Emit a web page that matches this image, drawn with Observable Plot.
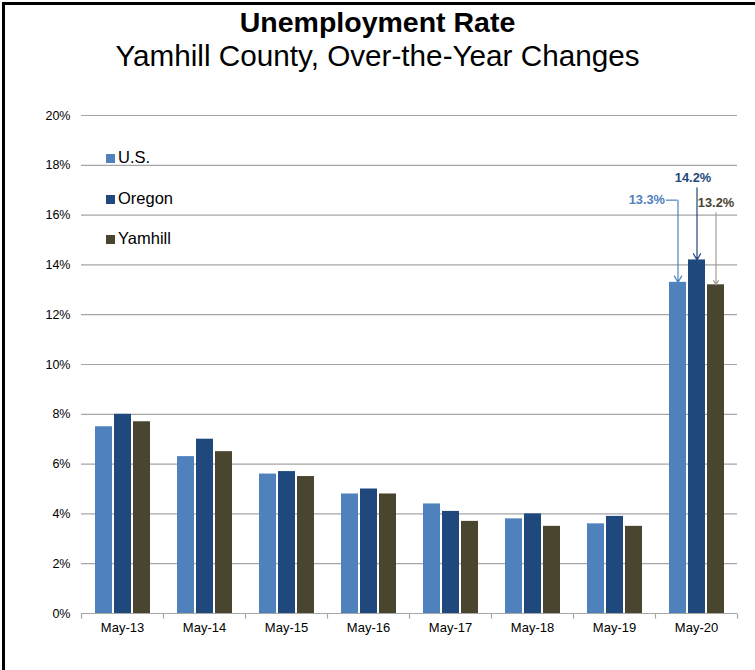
<!DOCTYPE html>
<html>
<head>
<meta charset="utf-8">
<script src="https://cdn.jsdelivr.net/npm/d3@7"></script>
<script src="https://cdn.jsdelivr.net/npm/@observablehq/plot@0.6"></script>
<style>
  html, body { margin: 0; padding: 0; width: 755px; height: 670px; overflow: hidden; background: #fff; }
  body { position: relative; font-family: "Liberation Sans", Arial, sans-serif; }
  #frame { position: absolute; left: 2px; top: 2px; width: 820px; height: 720px; border-left: 3px solid #000; border-top: 3px solid #000; }
  #title { position: absolute; left: 0; top: 8px; width: 755px; text-align: center; font-weight: bold; font-size: 28.5px; line-height: 28.5px; color: #000; }
  #subtitle { position: absolute; left: 0; top: 41px; width: 755px; text-align: center; font-size: 29.7px; line-height: 29.7px; color: #000; }
  #chart { position: absolute; left: 0; top: 90px; }
  #legend { position: absolute; left: 106px; top: 147px; }
  .item { font-size: 16.5px; line-height: 20px; height: 40.5px; color: #000; white-space: nowrap; }
  .sw { display: inline-block; width: 9px; height: 9px; margin-right: 3px; vertical-align: baseline; }
</style>
</head>
<body>
<div id="frame"></div>
<div id="title">Unemployment Rate</div>
<div id="subtitle">Yamhill County, Over-the-Year Changes</div>
<div id="chart"></div>
<div id="legend"></div>
<script>
// ---- data ----
const categories = ["May-13", "May-14", "May-15", "May-16", "May-17", "May-18", "May-19", "May-20"];
const series = ["U.S.", "Oregon", "Yamhill"];
const usValues      = [7.5, 6.3, 5.6, 4.8, 4.4, 3.8, 3.6, 13.3];
const oregonValues  = [8.0, 7.0, 5.7, 5.0, 4.1, 4.0, 3.9, 14.2];
const yamhillValues = [7.7, 6.5, 5.5, 4.8, 3.7, 3.5, 3.5, 13.2];
const yTicks = [0, 2, 4, 6, 8, 10, 12, 14, 16, 18, 20];
const seriesColors = ["#4F81BD", "#1F497D", "#4A452F"];
const arrowColors = ["#4F81BD", "#1F497D", "#A59E93"];

// ---- table built from arrays ----
const valueArrays = [usValues, oregonValues, yamhillValues];
const rows = [];
categories.forEach((c, i) => {
  series.forEach((s, j) => rows.push({category: c, series: s, value: valueArrays[j][i]}));
});
const lastCat = categories[categories.length - 1];
const annot = rows.filter(d => d.category === lastCat);

const font = "'Liberation Sans', Arial, sans-serif";
const tickSymbol = { draw(ctx) { ctx.moveTo(0, 0); ctx.lineTo(0, 5); } };

const annotMarks = [];
annot.forEach((d, j) => {
  const isUS = j === 0;
  annotMarks.push(
    Plot.text([d], {
      fx: "category", x: "series", y: v => v.value + 3.3,
      text: v => v.value.toFixed(1) + "%",
      fill: seriesColors[j], fontWeight: "bold", fontSize: 12.8,
      textAnchor: isUS ? "end" : "middle", dx: isUS ? -13 : (j === 1 ? -4 : 0)
    }),
    Plot.arrow([d], {
      fx: "category", x1: "series", x2: "series",
      y1: v => v.value + 3.3, y2: "value",
      stroke: arrowColors[j], strokeWidth: 1.2,
      headLength: j === 2 ? 6 : 9, insetStart: isUS ? 0 : 10, insetEnd: 0
    })
  );
  if (isUS) {
    annotMarks.push(Plot.tickY([d], {
      fx: "category", x: "series", y: v => v.value + 3.3,
      dx: -3, insetRight: 6, stroke: arrowColors[j], strokeWidth: 1.2
    }));
  }
});

const chart = Plot.plot({
  width: 755,
  height: 568,
  marginTop: 25,
  marginBottom: 45,
  marginLeft: 78,
  marginRight: 15,
  style: { fontFamily: font, fontSize: "12.5px", color: "#000", background: "transparent" },
  fx: { domain: categories, padding: 0, axis: null, label: null },
  x: { domain: series, paddingInner: 0.12, paddingOuter: 0.68, axis: null, label: null },
  y: { domain: [0, 20], ticks: yTicks, tickFormat: d => d + "%", tickSize: 0, tickPadding: 11, label: null },
  color: { domain: series, range: seriesColors },
  marks: [
    Plot.ruleY(yTicks, { stroke: "#a6a6a6", strokeWidth: 1.2 }),
    Plot.barY(rows, { fx: "category", x: "series", y: "value", fill: "series" }),
    Plot.dot(categories, { fx: d => d, frameAnchor: "bottom-left", symbol: tickSymbol, r: 5, fill: "none", stroke: "#a6a6a6", strokeWidth: 1.2 }),
    Plot.dot([lastCat], { fx: d => d, frameAnchor: "bottom-right", symbol: tickSymbol, r: 5, fill: "none", stroke: "#a6a6a6", strokeWidth: 1.2 }),
    Plot.text(categories, { fx: d => d, text: d => d, frameAnchor: "bottom", dy: 18, fontSize: 13, fill: "#000" }),
    ...annotMarks
  ]
});
document.getElementById("chart").appendChild(chart);

// ---- legend ----
const legend = d3.select("#legend");
series.forEach((s, j) => {
  const it = legend.append("div").attr("class", "item");
  it.append("span").attr("class", "sw").style("background", seriesColors[j]);
  it.append("span").text(s);
});
</script>
</body>
</html>
